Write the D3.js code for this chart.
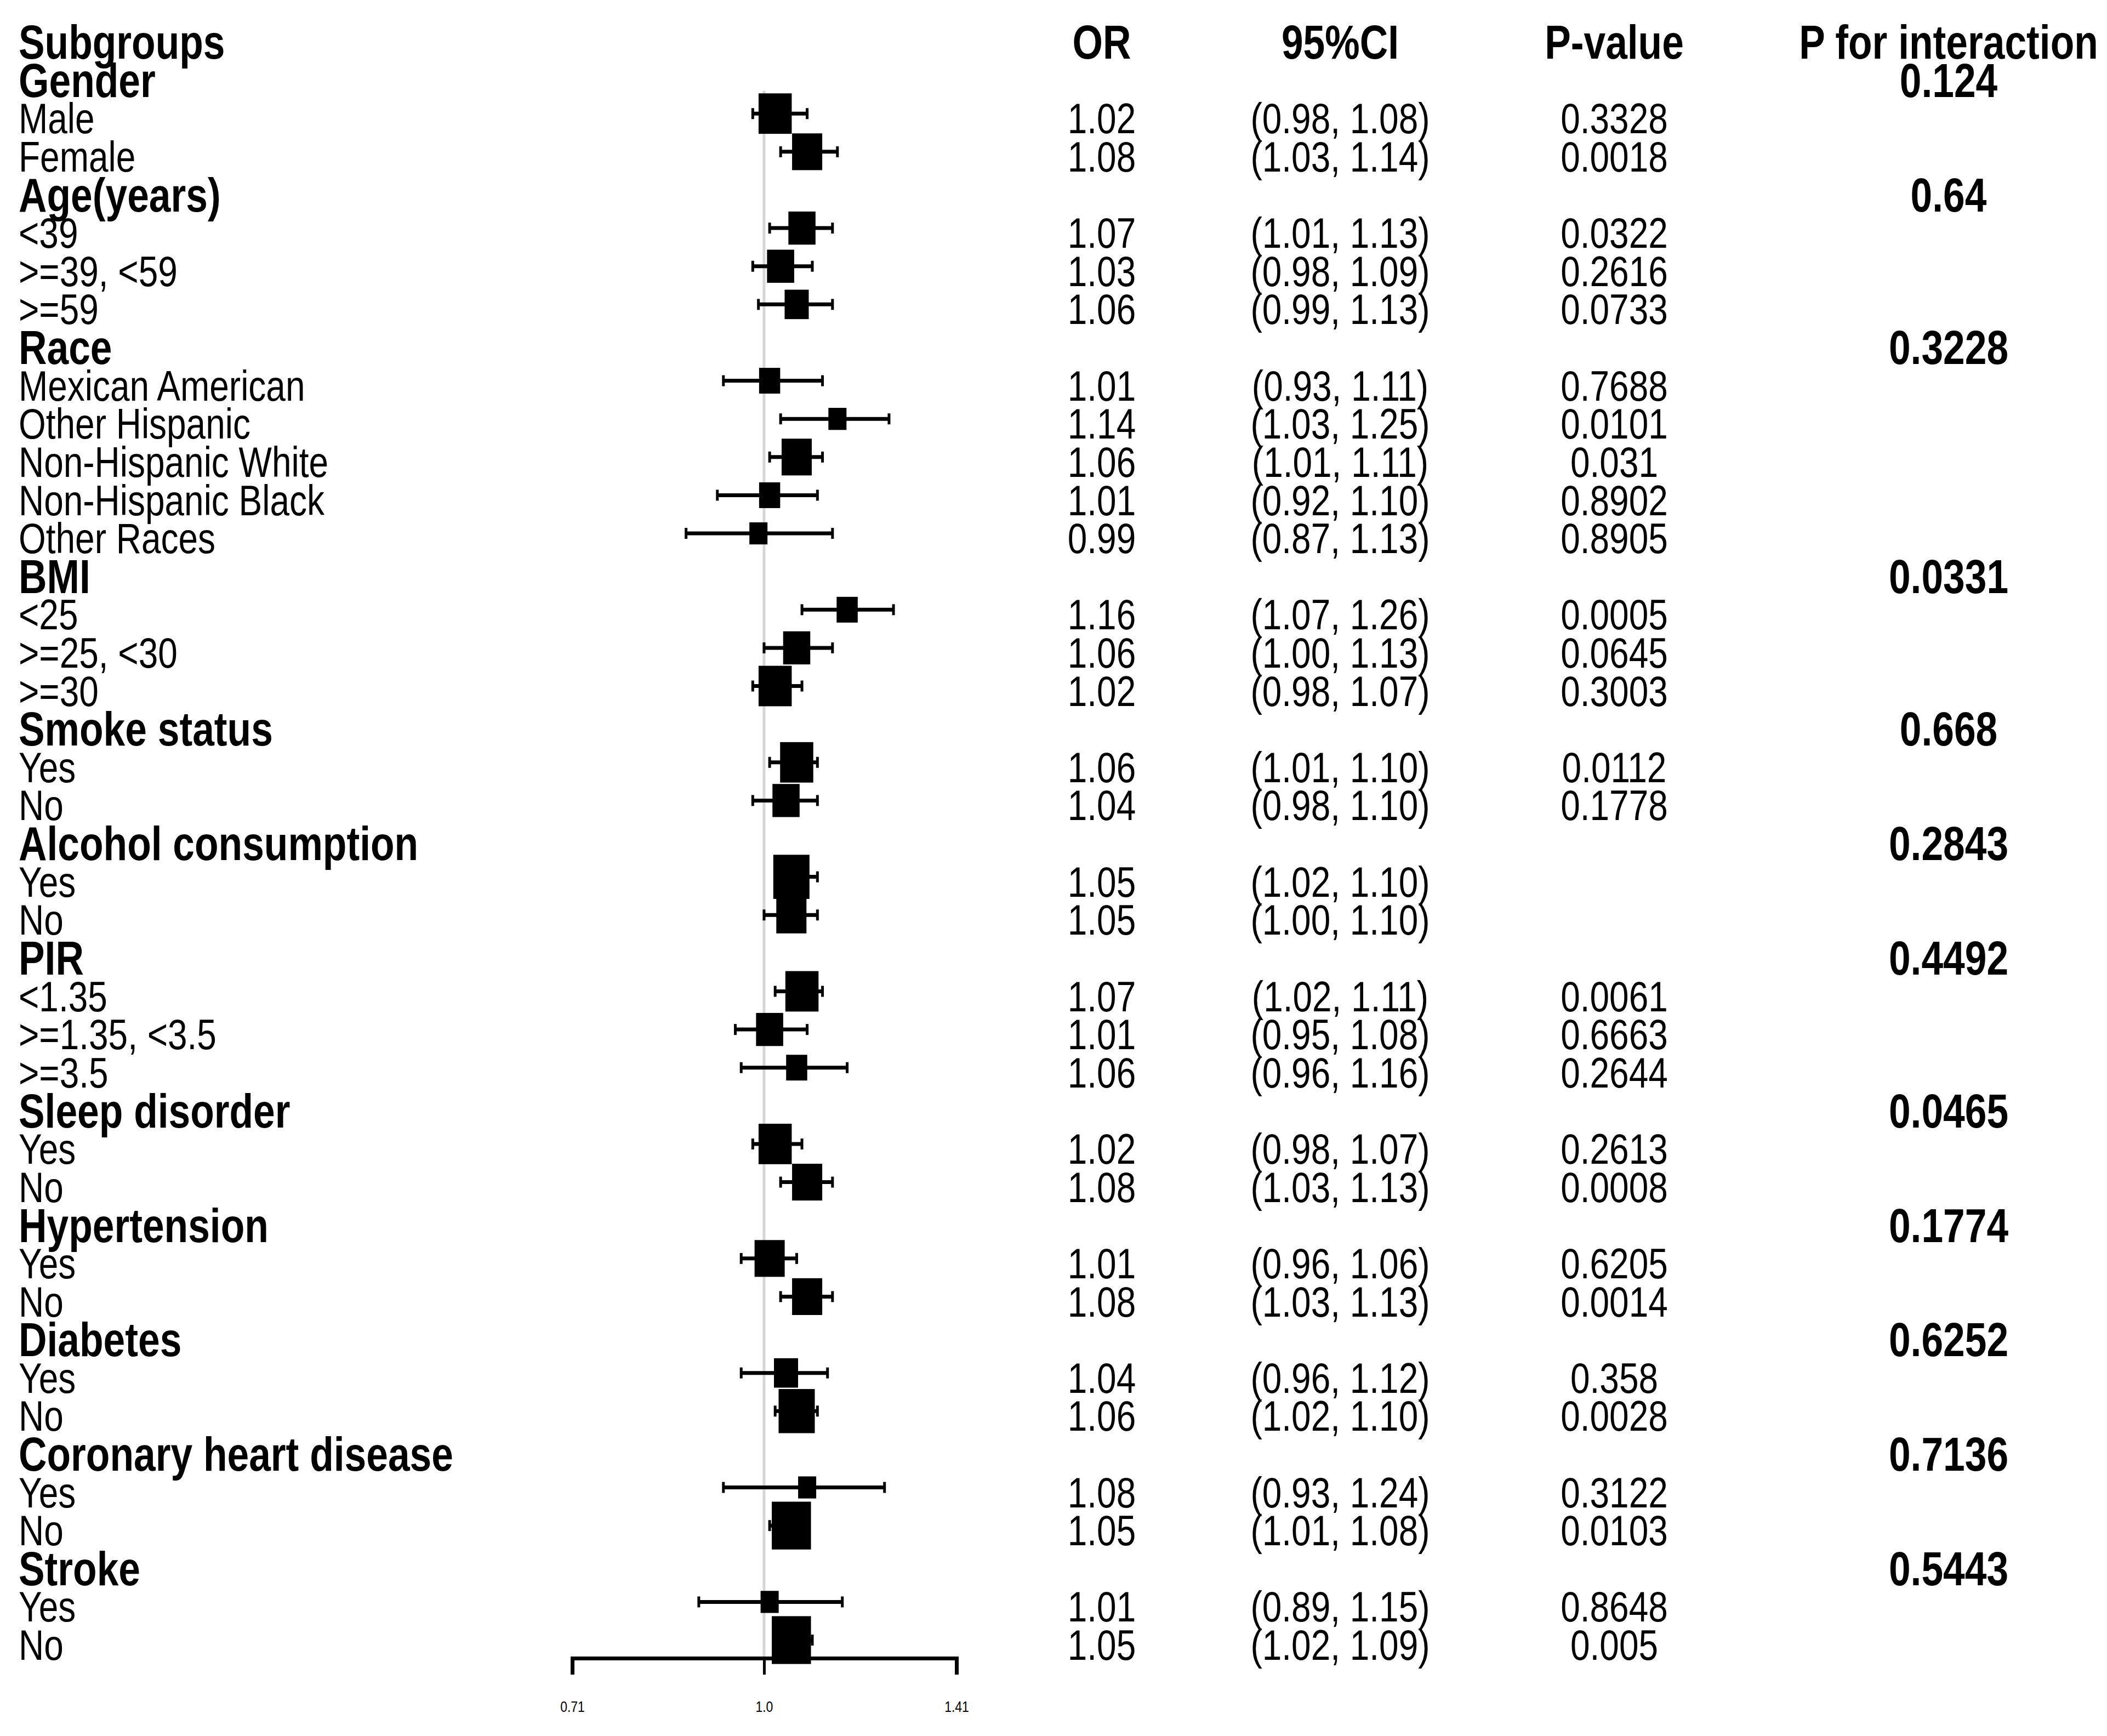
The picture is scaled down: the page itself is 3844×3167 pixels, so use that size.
<!DOCTYPE html>
<html>
<head>
<meta charset="utf-8">
<script src="https://cdn.jsdelivr.net/npm/d3@7"></script>
<style>
  html, body { margin: 0; padding: 0; background: #fff; }
  svg { display: block; }
  text { font-family: "Liberation Sans", Arial, sans-serif; fill: #000; }
</style>
</head>
<body>
<svg id="chart"></svg>
<script>
// rows of the table, top to bottom (group headers have no estimate)
const labels = ["Subgroups", "Gender", "Male", "Female", "Age(years)", "<39", ">=39, <59", ">=59",
    "Race", "Mexican American", "Other Hispanic", "Non-Hispanic White", "Non-Hispanic Black", "Other Races",
    "BMI", "<25", ">=25, <30", ">=30", "Smoke status", "Yes", "No", "Alcohol consumption", "Yes", "No",
    "PIR", "<1.35", ">=1.35, <3.5", ">=3.5", "Sleep disorder", "Yes", "No", "Hypertension", "Yes", "No",
    "Diabetes", "Yes", "No", "Coronary heart disease", "Yes", "No", "Stroke", "Yes", "No"];

const oddsRatio = [null, null, 1.02, 1.08, null, 1.07, 1.03, 1.06, null, 1.01, 1.14, 1.06, 1.01, 0.99,
    null, 1.16, 1.06, 1.02, null, 1.06, 1.04, null, 1.05, 1.05, null, 1.07, 1.01, 1.06, null, 1.02, 1.08,
    null, 1.01, 1.08, null, 1.04, 1.06, null, 1.08, 1.05, null, 1.01, 1.05];

const ciLower = [null, null, 0.98, 1.03, null, 1.01, 0.98, 0.99, null, 0.93, 1.03, 1.01, 0.92, 0.87,
    null, 1.07, 1.00, 0.98, null, 1.01, 0.98, null, 1.02, 1.00, null, 1.02, 0.95, 0.96, null, 0.98, 1.03,
    null, 0.96, 1.03, null, 0.96, 1.02, null, 0.93, 1.01, null, 0.89, 1.02];

const ciUpper = [null, null, 1.08, 1.14, null, 1.13, 1.09, 1.13, null, 1.11, 1.25, 1.11, 1.10, 1.13,
    null, 1.26, 1.13, 1.07, null, 1.10, 1.10, null, 1.10, 1.10, null, 1.11, 1.08, 1.16, null, 1.07, 1.13,
    null, 1.06, 1.13, null, 1.12, 1.10, null, 1.24, 1.08, null, 1.15, 1.09];

// relative weight of each estimate (drives the box size)
const weights = [null, null, 11, 10, null, 9, 9, 8, null, 7, 6, 10, 7, 6,
    null, 7, 9, 11, null, 11, 9, null, 12, 10, null, 11, 9, 7, null, 11, 10,
    null, 10, 10, null, 8, 12, null, 6, 13, null, 6, 13];

const pValues = ["", "", "0.3328", "0.0018", "", "0.0322", "0.2616", "0.0733", "", "0.7688", "0.0101",
    "0.031", "0.8902", "0.8905", "", "0.0005", "0.0645", "0.3003", "", "0.0112", "0.1778", "", "", "",
    "", "0.0061", "0.6663", "0.2644", "", "0.2613", "0.0008", "", "0.6205", "0.0014", "", "0.358", "0.0028",
    "", "0.3122", "0.0103", "", "0.8648", "0.005"];

const pInteraction = ["", "0.124", "", "", "0.64", "", "", "", "0.3228", "", "", "", "", "",
    "0.0331", "", "", "", "0.668", "", "", "0.2843", "", "", "0.4492", "", "", "", "0.0465", "", "",
    "0.1774", "", "", "0.6252", "", "", "0.7136", "", "", "0.5443", "", ""];

const columnHeaders = ["OR", "95%CI", "P-value", "P for interaction"];

const tickValues = [0.71, 1.0, 1.41];
const tickLabels = ["0.71", "1.0", "1.41"];

const width = 3844, height = 3167;
const narrow = 0.82;   // the original uses a condensed face

const svg = d3.select("#chart")
    .attr("width", width)
    .attr("height", height);

svg.append("rect").attr("width", width).attr("height", height).attr("fill", "#fff");

const x = d3.scaleLog().domain([0.71, 1.41]).range([1044, 1745]);
const y = d3.scaleLinear().domain([0, labels.length - 1]).range([68, 2992]);
const boxW = d3.scaleLinear().domain([0, 13]).range([0, 71.5]);
const axisY = 3025;

const colX = { label: 34, or: 2010, ci: 2445, p: 2945, pint: 3555 };

const rows = labels.map((label, i) => ({
    i: i,
    label: label,
    or: oddsRatio[i],
    lo: ciLower[i],
    hi: ciUpper[i],
    w: weights[i],
    p: pValues[i],
    pint: pInteraction[i],
    bold: oddsRatio[i] === null
}));
const est = rows.filter(d => d.or !== null);

// reference line at OR = 1
svg.append("line")
    .attr("x1", x(1)).attr("x2", x(1))
    .attr("y1", y(1.4)).attr("y2", axisY)
    .attr("stroke", "#d6d6d6")
    .attr("stroke-width", 5);

// confidence intervals
const ci = svg.append("g").attr("class", "ci");
ci.selectAll("line.bar")
    .data(est)
    .enter().append("line")
    .attr("class", "bar")
    .attr("x1", d => x(d.lo)).attr("x2", d => x(d.hi))
    .attr("y1", d => y(d.i)).attr("y2", d => y(d.i))
    .attr("stroke", "#000")
    .attr("stroke-width", 7);

["lo", "hi"].forEach(k => {
    ci.selectAll("line.cap-" + k)
        .data(est)
        .enter().append("line")
        .attr("class", "cap-" + k)
        .attr("x1", d => x(d[k])).attr("x2", d => x(d[k]))
        .attr("y1", d => y(d.i) - 10).attr("y2", d => y(d.i) + 10)
        .attr("stroke", "#000")
        .attr("stroke-width", 5);
});

// point estimates
svg.append("g").attr("class", "boxes")
    .selectAll("rect")
    .data(est)
    .enter().append("rect")
    .attr("x", d => x(d.or) - boxW(d.w) / 2)
    .attr("y", d => y(d.i) - boxW(d.w) * 1.22 / 2)
    .attr("width", d => boxW(d.w))
    .attr("height", d => boxW(d.w) * 1.22)
    .attr("fill", "#000");

// x axis
const axis = svg.append("g")
    .attr("transform", `translate(0,${axisY})`)
    .call(d3.axisBottom(x)
        .tickValues(tickValues)
        .tickFormat((d, i) => tickLabels[i])
        .tickSizeOuter(0)
        .tickSize(30)
        .tickPadding(48));
axis.select(".domain").attr("stroke", "#000").attr("stroke-width", 7);
axis.selectAll(".tick line").attr("stroke", "#000").attr("stroke-width", 5);
axis.selectAll(".tick text")
    .attr("font-size", 28)
    .attr("fill", "#777")
    .style("font-family", "'Liberation Sans', Arial, sans-serif")
    .attr("transform", `scale(${narrow},1)`);

// table text, squeezed horizontally round its anchor point
const txt = svg.append("g").attr("class", "table");

function column(data, key, cx, anchor, bold) {
    txt.selectAll(null)
        .data(data.filter(d => key(d) !== ""))
        .enter().append("text")
        .attr("transform", d => `translate(${cx},${y(d.i) + 8}) scale(${narrow},1)`)
        .attr("dy", "0.36em")
        .attr("text-anchor", anchor)
        .attr("font-size", d => bold(d) ? 87 : 78)
        .attr("font-weight", d => bold(d) ? "bold" : "normal")
        .text(key);
}

column(rows, d => d.label, colX.label, "start", d => d.bold);
column(est, d => d.or.toFixed(2), colX.or, "middle", () => false);
column(est, d => `(${d.lo.toFixed(2)}, ${d.hi.toFixed(2)})`, colX.ci, "middle", () => false);
column(est, d => d.p, colX.p, "middle", () => false);
column(rows, d => d.pint, colX.pint, "middle", () => true);

// column headers on the first row
const headerX = [colX.or, colX.ci, colX.p, colX.pint];
txt.selectAll("text.header")
    .data(columnHeaders)
    .enter().append("text")
    .attr("class", "header")
    .attr("transform", (d, i) => `translate(${headerX[i]},${y(0) + 8}) scale(${narrow},1)`)
    .attr("dy", "0.36em")
    .attr("text-anchor", "middle")
    .attr("font-size", 87)
    .attr("font-weight", "bold")
    .text(d => d);
</script>
</body>
</html>
